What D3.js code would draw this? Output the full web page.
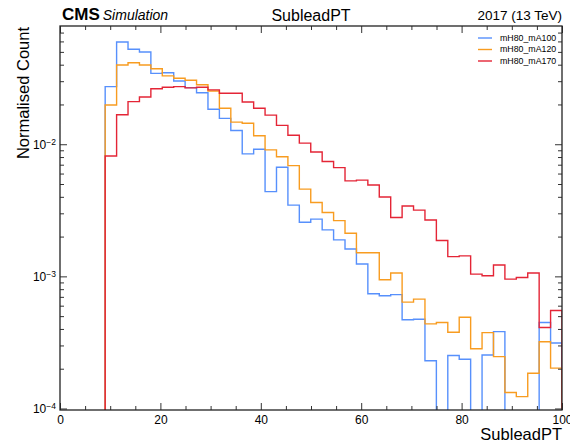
<!DOCTYPE html>
<html>
<head>
<meta charset="utf-8">
<script src="https://cdn.jsdelivr.net/npm/d3@7"></script>
<style>
  body { margin: 0; background: #fff; }
  svg { display: block; font-family: "Liberation Sans", Arial, sans-serif; }
  .tick line { stroke: #333; }
</style>
</head>
<body>
<svg width="570" height="445"></svg>
<script>
// histogram: 40 bins between 9 and 100
var binLow = 9, binHigh = 100, nBins = 40;
var seriesNames = ["mH80_mA100", "mH80_mA120", "mH80_mA170"];
var seriesColors = ["#5790fc", "#f89c20", "#e42536"];

var mA100 = [0.0273, 0.0594, 0.0523, 0.0499, 0.0344, 0.0348, 0.0301, 0.0268, 0.0245, 0.0184,
  0.0157, 0.0127, 0.00845, 0.00917, 0.00438, 0.0067, 0.00346, 0.00257, 0.00271, 0.00225,
  0.00189, 0.00161, 0.00124, 0.000738, 0.000713, 0.000728, 0.000469, 0.000474, 0.00023, 0,
  0.000252, 0.000236, 0, 0.000254, 0.000382, 0, 0, 0, 0.000448, 0.000313];
var mA120 = [0.0198, 0.0398, 0.0414, 0.0398, 0.0373, 0.0329, 0.0316, 0.0305, 0.0282, 0.0253,
  0.0187, 0.0147, 0.0144, 0.0116, 0.00906, 0.00805, 0.00689, 0.00457, 0.00362, 0.00304,
  0.00264, 0.00212, 0.00151, 0.00151, 0.000942, 0.00106, 0.000638, 0.000673, 0.000437, 0.000447,
  0.000378, 0.000491, 0.000283, 0.000375, 0.000247, 0.000132, 0.000123, 0.000185, 0.00032, 0.000202];
var mA170 = [0.00815, 0.0167, 0.021, 0.0228, 0.0263, 0.027, 0.0273, 0.0267, 0.027, 0.0258,
  0.0243, 0.0243, 0.0209, 0.0187, 0.0166, 0.0139, 0.0117, 0.0102, 0.00874, 0.0074,
  0.00665, 0.00528, 0.00535, 0.00492, 0.00399, 0.00279, 0.00341, 0.00317, 0.00267, 0.00187,
  0.00141, 0.00143, 0.00104, 0.00101, 0.00122, 0.000953, 0.00098, 0.00106, 0.00041, 0.000551];

var xMajor = [0, 20, 40, 60, 80, 100];
var xMinor = [5, 10, 15, 25, 30, 35, 45, 50, 55, 65, 70, 75, 85, 90, 95];
var yMajor = [1e-4, 1e-3, 1e-2];
var yMinor = [2e-4, 3e-4, 4e-4, 5e-4, 6e-4, 7e-4, 8e-4, 9e-4,
  2e-3, 3e-3, 4e-3, 5e-3, 6e-3, 7e-3, 8e-3, 9e-3,
  2e-2, 3e-2, 4e-2, 5e-2, 6e-2, 7e-2];

var padL = 60, padR = 562, padT = 26, padB = 410;

var binEdges = d3.range(nBins + 1).map(function (i) { return binLow + i * (binHigh - binLow) / nBins; });

var x = d3.scaleLinear().domain([0, 100]).range([padL, padR]);
var y = d3.scaleLog().domain([0.974e-4, 0.0785]).range([padB, padT]);

var svg = d3.select("svg");

svg.append("clipPath").attr("id", "plotclip")
  .append("rect").attr("x", padL).attr("y", padT).attr("width", padR - padL).attr("height", padB - padT);

// step outline of one histogram
var stepPath = function (vals) {
  var py = function (v) { return v > 0 ? y(v) : padB + 20; };
  var pts = [[x(binEdges[0]), padB + 20]];
  vals.forEach(function (v, i) {
    pts.push([x(binEdges[i]), py(v)]);
    pts.push([x(binEdges[i + 1]), py(v)]);
  });
  pts.push([x(binEdges[nBins]), padB + 20]);
  return d3.line()(pts);
};

var series = [mA100, mA120, mA170];
svg.append("g").attr("clip-path", "url(#plotclip)")
  .selectAll("path").data(series).enter().append("path")
  .attr("d", stepPath)
  .attr("fill", "none")
  .attr("stroke", function (d, i) { return seriesColors[i]; })
  .attr("stroke-width", 1.4);

// axes, ticks pointing inward on all four sides
var axisGroup = function (axis, tx, ty) {
  var g = svg.append("g").attr("transform", "translate(" + tx + "," + ty + ")").call(axis);
  g.select(".domain").remove();
  g.selectAll("text").attr("fill", "#000").style("font-size", "12px").style("font-family", "Liberation Sans, Arial, sans-serif");
  return g;
};
axisGroup(d3.axisBottom(x).tickValues(xMajor).tickSize(-7).tickPadding(5).tickFormat(d3.format("d")), 0, padB);
axisGroup(d3.axisBottom(x).tickValues(xMinor).tickSize(-4).tickFormat(""), 0, padB);
axisGroup(d3.axisTop(x).tickValues(xMajor).tickSize(-7).tickFormat(""), 0, padT);
axisGroup(d3.axisTop(x).tickValues(xMinor).tickSize(-4).tickFormat(""), 0, padT);

var yl = axisGroup(d3.axisLeft(y).tickValues(yMajor).tickSize(-7).tickPadding(4).tickFormat(""), padL, 0);
yl.selectAll(".tick text").each(function (d) {
  var t = d3.select(this);
  t.append("tspan").text("10");
  t.append("tspan").attr("dy", "-0.45em").style("font-size", "8.5px").text("\u2212" + Math.round(-Math.log10(d)));
});
axisGroup(d3.axisLeft(y).tickValues(yMinor).tickSize(-4).tickFormat(""), padL, 0);
axisGroup(d3.axisRight(y).tickValues(yMajor).tickSize(-7).tickFormat(""), padR, 0);
axisGroup(d3.axisRight(y).tickValues(yMinor).tickSize(-4).tickFormat(""), padR, 0);

svg.append("rect")
  .attr("x", padL).attr("y", padT).attr("width", padR - padL).attr("height", padB - padT)
  .attr("fill", "none").attr("stroke", "#222").attr("stroke-width", 1.3);

// legend
var legend = svg.append("g").attr("transform", "translate(478,38)");
var row = legend.selectAll("g").data(seriesNames).enter().append("g")
  .attr("transform", function (d, i) { return "translate(0," + i * 11.5 + ")"; });
row.append("line").attr("x1", 0).attr("x2", 14).attr("y1", 0).attr("y2", 0)
  .attr("stroke", function (d, i) { return seriesColors[i]; }).attr("stroke-width", 1.4);
row.append("text").attr("x", 22).attr("dy", "0.33em").style("font-size", "8.8px").text(function (d) { return d; });

// labels
var head = svg.append("text").attr("x", 62).attr("y", 20);
head.append("tspan").style("font-weight", "bold").style("font-size", "17px").text("CMS");
head.append("tspan").attr("dx", 3).style("font-style", "italic").style("font-size", "14px").text("Simulation");

svg.append("text").attr("x", (padL + padR) / 2).attr("y", 21).attr("text-anchor", "middle")
  .style("font-size", "16px").text("SubleadPT");
svg.append("text").attr("x", padR).attr("y", 20).attr("text-anchor", "end")
  .style("font-size", "13.5px").text("2017 (13 TeV)");

svg.append("text").attr("x", padR).attr("y", 440).attr("text-anchor", "end")
  .style("font-size", "16.5px").text("SubleadPT");
svg.append("text").attr("transform", "translate(29,27) rotate(-90)").attr("text-anchor", "end")
  .style("font-size", "16.5px").text("Normalised Count");
</script>
</body>
</html>
